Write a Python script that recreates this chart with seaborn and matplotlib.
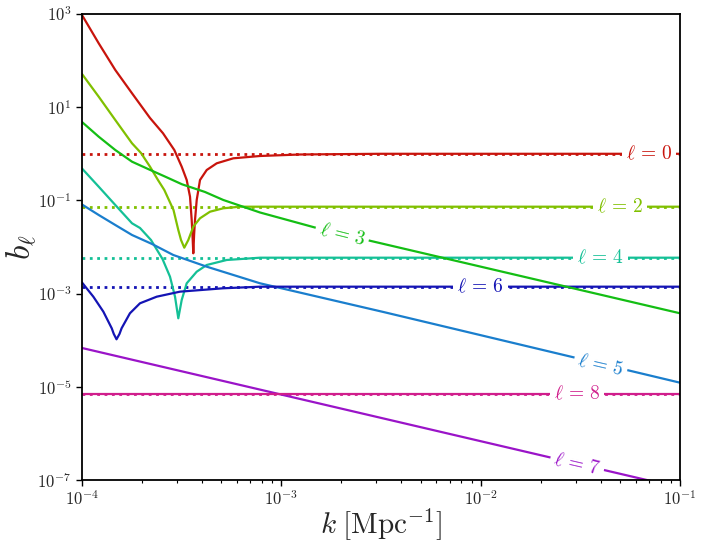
import seaborn as sns
import matplotlib.pyplot as plt
import matplotlib.ticker as mticker
import numpy as np

# values (k in Mpc^-1, b_ell)
k0 = [1.0e-4, 1.213e-4, 1.469e-4, 1.782e-4, 2.194e-4, 2.55e-4, 2.905e-4, 3.164e-4,
      3.352e-4, 3.483e-4, 3.551e-4, 3.584e-4, 3.618e-4, 3.651e-4, 3.69e-4, 3.763e-4,
      3.909e-4, 4.224e-4, 4.742e-4, 5.743e-4, 7.818e-4, 1.241e-3, 3.127e-3, 1e-1]
b0 = [950, 235, 62.9, 19.9, 5.86, 2.754, 1.206, 0.529,
      0.274, 0.1201, 0.038, 0.0181, 0.00732, 0.0181, 0.038, 0.102,
      0.274, 0.449, 0.625, 0.80, 0.897, 0.966, 1.0, 1.0]

k2 = [1.0e-4, 1.213e-4, 1.469e-4, 1.782e-4, 1.977e-4, 2.194e-4, 2.405e-4, 2.588e-4,
      2.878e-4, 3.042e-4, 3.139e-4, 3.26e-4, 3.415e-4, 3.618e-4, 3.909e-4, 4.388e-4,
      5.117e-4, 6.206e-4, 1e-1]
b2 = [51.6, 16.8, 5.31, 1.68, 1.04, 0.529, 0.274, 0.1672,
      0.0622, 0.02317, 0.01413, 0.00966, 0.01413, 0.02726, 0.0413, 0.0572,
      0.0677, 0.0732, 0.0732]

k3 = [1.0e-4, 1.213e-4, 1.469e-4, 1.782e-4, 2.161e-4, 2.618e-4, 3.175e-4, 4.141e-4,
      5.117e-4, 7.818e-4, 1.505e-3, 2.683e-3, 1e-1]
b3 = [4.81, 2.328, 1.206, 0.677, 0.465, 0.3226, 0.2215, 0.1515,
      0.102, 0.055, 0.02556, 0.01413, 3.78e-4]

k4 = [1.0e-4, 1.213e-4, 1.469e-4, 1.782e-4, 1.954e-4, 2.219e-4, 2.534e-4, 2.764e-4,
      2.929e-4, 3.042e-4, 3.164e-4, 3.352e-4, 3.763e-4, 4.224e-4, 5.321e-4, 7.818e-4, 1e-1]
b4 = [0.4836, 0.1968, 0.0797, 0.03226, 0.0256, 0.01413, 0.00553, 0.002305,
      0.000858, 0.000295, 0.000729, 0.001663, 0.00295, 0.00411, 0.00526, 0.00589, 0.00589]

k5 = [1.0e-4, 1.213e-4, 1.469e-4, 1.782e-4, 2.245e-4, 2.871e-4, 4.224e-4, 7.818e-4,
      3.25e-3, 1e-1]
b5 = [0.0817, 0.0486, 0.02965, 0.0181, 0.0116, 0.00673, 0.00378, 0.001663,
      4.03e-4, 1.225e-5]

k6 = [1.0e-4, 1.14e-4, 1.28e-4, 1.41e-4, 1.444e-4, 1.49e-4, 1.542e-4, 1.58e-4, 1.74e-4,
      1.954e-4, 2.371e-4, 3.102e-4, 5.117e-4, 7.818e-4, 1e-1]
b6 = [1.73e-3, 8.58e-4, 4.09e-4, 1.8e-4, 1.36e-4, 1.045e-4, 1.36e-4, 1.8e-4, 3.78e-4,
      6.19e-4, 8.58e-4, 1.1e-3, 1.3e-3, 1.406e-3, 1.406e-3]

k7 = [1.0e-4, 1e-1]
b7 = [6.8e-5, 6.8e-8]

k8 = [1.0e-4, 1e-1]
b8 = [7.0e-6, 7.0e-6]

# dotted asymptotes
asym_ells = [0, 2, 4, 6, 8]
asym_vals = [1.0, 0.0732, 5.89e-3, 1.406e-3, 7.0e-6]

ells = [0, 2, 3, 4, 5, 6, 7, 8]
colors = ['#c8140c', '#80c000', '#14be14', '#14c096', '#1a7ecd', '#1414b4', '#9a14c8', '#d01e8c']

# inline label positions and angles
lab_k = [0.070, 0.050, 2.02e-3, 0.040, 0.040, 0.010, 0.0305, 0.0305]
lab_b = [1.0, 0.0732, 0.0188, 5.89e-3, 2.94e-5, 1.406e-3, 2.2e-7, 7.0e-6]
lab_rot = [0, 0, -14, 0, -13, 0, -13, 0]

sns.set_style("ticks")
plt.rcParams['mathtext.fontset'] = 'cm'

fig = plt.figure(figsize=(7.05, 5.51), dpi=100)
ax = fig.add_axes([0.1163, 0.1289, 0.8482, 0.8457])

curves = {0: (k0, b0), 2: (k2, b2), 3: (k3, b3), 4: (k4, b4),
          5: (k5, b5), 6: (k6, b6), 7: (k7, b7), 8: (k8, b8)}

for ell, val in zip(asym_ells, asym_vals):
    c = colors[ells.index(ell)]
    sns.lineplot(x=[1e-4, 1e-1], y=[val, val], ax=ax, color=c, lw=2, ls=':',
                 estimator=None, sort=False, zorder=2)

for ell, c in zip(ells, colors):
    k, b = curves[ell]
    # the l=3 line runs past the l=6 label, keep it on top of other labels
    z = 4.5 if ell == 3 else 3
    sns.lineplot(x=k, y=b, ax=ax, color=c, lw=1.6, estimator=None, sort=False, zorder=z)

ax.set(xscale='log', yscale='log')
ax.set_xlim(1e-4, 1e-1)
ax.set_ylim(1e-7, 1e3)

for i, ell in enumerate(ells):
    ax.text(lab_k[i], lab_b[i], r'$\ell\,=\,%d$' % ell, color=colors[i], fontsize=14,
            ha='center', va='center', rotation=lab_rot[i], rotation_mode='anchor',
            bbox=dict(facecolor='white', edgecolor='none', boxstyle='square,pad=0.2'),
            zorder=5 if ell == 3 else 4, clip_on=True)

ax.yaxis.set_major_locator(mticker.FixedLocator([1e-7, 1e-5, 1e-3, 1e-1, 1e1, 1e3]))
ax.yaxis.set_minor_locator(mticker.NullLocator())
ax.xaxis.set_major_locator(mticker.FixedLocator([1e-4, 1e-3, 1e-2, 1e-1]))
ax.xaxis.set_minor_locator(mticker.LogLocator(base=10, subs=np.arange(2, 10), numticks=20))
fmt = mticker.FuncFormatter(lambda v, p: r'$10^{%d}$' % int(round(np.log10(v))))
ax.xaxis.set_major_formatter(fmt)
ax.yaxis.set_major_formatter(fmt)
ax.tick_params(which='major', labelsize=12, length=4, width=1, color='black')
ax.tick_params(which='minor', length=2.5, width=0.8, color='black')

for s in ax.spines.values():
    s.set_linewidth(1.3)
    s.set_color('black')
    s.set_zorder(10)

ax.set_xlabel(r'$k\;[\mathrm{Mpc}^{-1}]$', fontsize=21, labelpad=-2)
ax.set_ylabel(r'$b_\ell$', fontsize=24, labelpad=-1)

fig.savefig('out.png', dpi=100)
